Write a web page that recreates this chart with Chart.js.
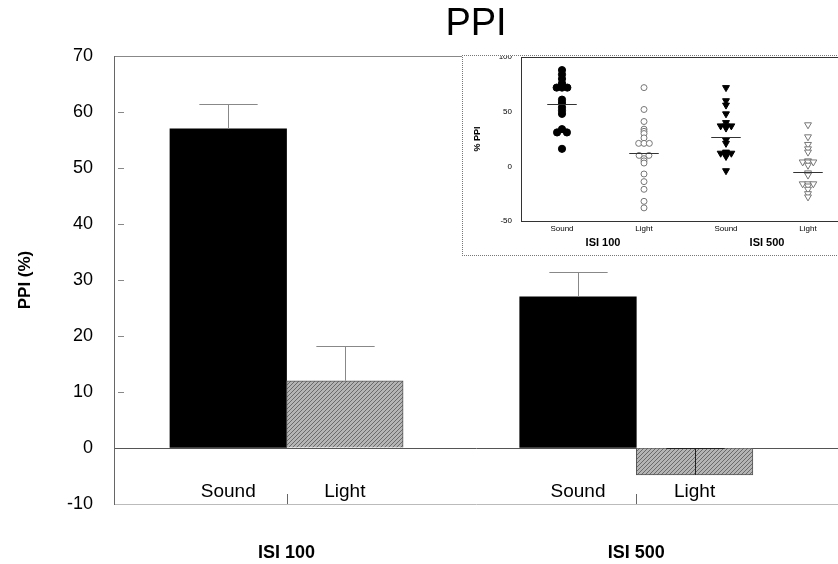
<!DOCTYPE html>
<html>
<head>
<meta charset="utf-8">
<script src="https://cdn.jsdelivr.net/npm/chart.js@4"></script>
<style>
  html, body { margin: 0; padding: 0; background: #fff; overflow: hidden; }
  #wrap { position: relative; width: 838px; height: 564px; overflow: hidden; }
  #inset {
    position: absolute; left: 462px; top: 55px; width: 400px; height: 199px;
    background: #fff; overflow: hidden;
    border-left: 1px dotted #777; border-top: 1px dotted #777; border-bottom: 1px dotted #777;
  }
  #scatter { display: block; margin-top: -4px; }
</style>
</head>
<body>
<div id="wrap">
  <canvas id="main" width="838" height="564"></canvas>
  <div id="inset"><canvas id="scatter" width="400" height="203"></canvas></div>
</div>
<script>
// main bar chart
const conditions = ['Sound', 'Light', 'Sound', 'Light'];
const groups = ['ISI 100', 'ISI 500'];
const ppiMean = [57, 12, 27, -4.8];
const ppiErr = [4.5, 6.2, 4.5, 4.8];
const mainYMin = -10, mainYMax = 70, mainYStep = 10;

// inset: individual animals, % PPI
const soundIsi100 = [88, 84, 80, 76, 74, 72, 72, 72, 61, 58, 54, 51, 48, 34, 31, 31, 16];
const lightIsi100 = [72, 52, 41, 34, 32, 30, 26, 21, 21, 21, 10, 10, 7, 5, 3, -7, -14, -21, -32, -38];
const soundIsi500 = [72, 60, 56, 48, 40, 37, 37, 37, 35, 24, 21, 13, 12, 12, 12, 10, 9, -4];
const lightIsi500 = [38, 27, 20, 16, 13, 5, 4, 4, 4, 1, -6, -8, -16, -16, -16, -18, -21, -25, -28];
const insetYMin = -50, insetYMax = 100, insetYStep = 50;

const FONT = '"Liberation Sans", Arial, sans-serif';

// bars sit in slots 0,1 and 3,4 (one empty slot between the groups)
const barX = i => i + Math.floor(i / 2);
const groupX = k => k * 3 + 0.5;

function hatch() {
    const c = document.createElement('canvas');
    c.width = 4; c.height = 4;
    const g = c.getContext('2d');
    g.fillStyle = '#b4b4b4';
    g.fillRect(0, 0, 4, 4);
    g.fillStyle = '#6a6a6a';
    for (let i = 0; i < 4; i++) g.fillRect(i, 3 - i, 1, 1);
    return g.createPattern(c, 'repeat');
}
const hatchFill = hatch();

const mainMarks = {
    id: 'mainMarks',
    afterDatasetsDraw(chart) {
        const { ctx, chartArea, scales: { x, y } } = chart;
        ctx.save();
        ctx.lineWidth = 1;
        // error bars (drawn upward)
        ppiMean.forEach((v, i) => {
            const xv = barX(i);
            const px = Math.round(x.getPixelForValue(xv)) + 0.5;
            const y0 = y.getPixelForValue(v);
            const y1 = Math.round(y.getPixelForValue(v + ppiErr[i])) + 0.5;
            const half = x.getPixelForValue(xv + 0.25) - x.getPixelForValue(xv);
            ctx.strokeStyle = v < 0 ? '#222' : '#888';
            ctx.beginPath();
            ctx.moveTo(px, y0); ctx.lineTo(px, y1);
            ctx.moveTo(px - half, y1); ctx.lineTo(px + half, y1);
            ctx.stroke();
        });
        // small inner tick marks on the y axis
        ctx.strokeStyle = '#888';
        y.ticks.forEach(t => {
            if (t.value <= mainYMin || t.value >= mainYMax || t.value === 0) return;
            const py = Math.round(y.getPixelForValue(t.value)) + 0.5;
            ctx.beginPath();
            ctx.moveTo(chartArea.left + 4, py); ctx.lineTo(chartArea.left + 10, py);
            ctx.stroke();
        });
        // condition labels inside the plot, above the bottom line
        ctx.fillStyle = '#000';
        ctx.font = '19px ' + FONT;
        ctx.textAlign = 'center';
        ctx.textBaseline = 'middle';
        conditions.forEach((c, i) => ctx.fillText(c, x.getPixelForValue(barX(i)), chartArea.bottom - 12));
        // separators between Sound and Light
        ctx.strokeStyle = '#666';
        groups.forEach((g, k) => {
            const px = Math.round(x.getPixelForValue(groupX(k))) + 0.5;
            ctx.beginPath();
            ctx.moveTo(px, chartArea.bottom); ctx.lineTo(px, chartArea.bottom - 10);
            ctx.stroke();
        });
        ctx.restore();
    }
};

new Chart(document.getElementById('main').getContext('2d'), {
    type: 'bar',
    data: {
        datasets: [{
            data: conditions.map((c, i) => ({ x: barX(i), y: ppiMean[i] })),
            backgroundColor: conditions.map(c => c === 'Sound' ? '#000' : hatchFill),
            borderColor: conditions.map(c => c === 'Sound' ? '#000' : '#555'),
            borderWidth: conditions.map(c => c === 'Sound' ? 0 : 1),
            barPercentage: 1,
            categoryPercentage: 1
        }]
    },
    options: {
        responsive: false,
        animation: false,
        layout: { padding: 0 },
        plugins: {
            legend: { display: false },
            tooltip: { enabled: false },
            title: {
                display: true, text: 'PPI', fullSize: false, color: '#000',
                font: { family: FONT, size: 38, weight: 'normal' },
                padding: { top: 2, bottom: 8.4 }
            }
        },
        scales: {
            x: {
                type: 'linear', min: -0.98, max: 5.23, offset: false,
                grid: { display: false, drawTicks: false, offset: false },
                border: { display: false },
                afterBuildTicks: s => { s.ticks = groups.map((g, k) => ({ value: groupX(k) })); },
                afterFit: s => { s.height = 60; },
                ticks: {
                    color: '#000', padding: 38, maxRotation: 0,
                    font: { family: FONT, size: 18, weight: 'bold' },
                    callback: (v, i) => groups[i]
                }
            },
            y: {
                min: mainYMin, max: mainYMax,
                afterFit: s => { s.width = 114; },
                border: { display: true, color: '#666', width: 1 },
                grid: {
                    drawTicks: false,
                    color: c => c.tick.value === 0 ? '#555' : c.tick.value === mainYMax ? '#888' : c.tick.value === mainYMin ? '#bbb' : 'rgba(0,0,0,0)'
                },
                ticks: {
                    stepSize: mainYStep, color: '#000', padding: 21,
                    font: { family: FONT, size: 18 }
                },
                title: {
                    display: true, text: 'PPI (%)', color: '#000',
                    font: { family: FONT, size: 17, weight: 'bold' },
                    padding: { top: 15, bottom: 0 }
                }
            }
        }
    },
    plugins: [mainMarks]
});

// inset scatter
function spread(values, gi) {
    const counts = {}, seen = {};
    values.forEach(v => { counts[v] = (counts[v] || 0) + 1; });
    return values.map(v => {
        const k = seen[v] = (seen[v] === undefined ? 0 : seen[v] + 1);
        const n = counts[v];
        const step = n === 2 ? 0.12 : 0.065;
        return { x: gi + (k - (n - 1) / 2) * step, y: v };
    });
}

const insetSeries = [soundIsi100, lightIsi100, soundIsi500, lightIsi500];
const insetStyle = [
    { pointStyle: 'circle', rotation: 0, bg: '#000', bd: '#000', r: 3.6 },
    { pointStyle: 'circle', rotation: 0, bg: '#fff', bd: '#777', r: 3 },
    { pointStyle: 'triangle', rotation: 180, bg: '#000', bd: '#000', r: 4 },
    { pointStyle: 'triangle', rotation: 180, bg: '#fff', bd: '#777', r: 4 }
];

const insetMarks = {
    id: 'insetMarks',
    afterDatasetsDraw(chart) {
        const { ctx, chartArea, scales: { x, y } } = chart;
        ctx.save();
        ctx.strokeStyle = '#333';
        ctx.lineWidth = 1;
        ppiMean.forEach((m, i) => {
            const py = Math.round(y.getPixelForValue(m)) + 0.5;
            ctx.beginPath();
            ctx.moveTo(x.getPixelForValue(i - 0.18), py);
            ctx.lineTo(x.getPixelForValue(i + 0.18), py);
            ctx.stroke();
        });
        ctx.fillStyle = '#000';
        ctx.font = 'bold 11px ' + FONT;
        ctx.textAlign = 'center';
        ctx.textBaseline = 'middle';
        groups.forEach((g, k) => ctx.fillText(g, x.getPixelForValue(k * 2 + 0.5), chartArea.bottom + 22));
        ctx.restore();
    }
};

new Chart(document.getElementById('scatter').getContext('2d'), {
    type: 'scatter',
    data: {
        datasets: insetSeries.map((vals, gi) => ({
            data: spread(vals, gi),
            pointStyle: insetStyle[gi].pointStyle,
            rotation: insetStyle[gi].rotation,
            pointBackgroundColor: insetStyle[gi].bg,
            pointBorderColor: insetStyle[gi].bd,
            pointBorderWidth: 1,
            pointRadius: insetStyle[gi].r
        }))
    },
    options: {
        responsive: false,
        animation: false,
        layout: { padding: { top: 1, right: 14 } },
        plugins: { legend: { display: false }, tooltip: { enabled: false } },
        scales: {
            x: {
                type: 'linear', min: -0.5, max: 3.5,
                grid: { display: false, drawTicks: false },
                border: { display: true, color: '#333' },
                afterBuildTicks: s => { s.ticks = conditions.map((c, i) => ({ value: i })); },
                afterFit: s => { s.height = 34; s.paddingLeft = 0; s.paddingRight = 0; },
                ticks: {
                    color: '#000', padding: 3, maxRotation: 0,
                    font: { family: FONT, size: 8 },
                    callback: (v, i) => conditions[i]
                }
            },
            y: {
                min: insetYMin, max: insetYMax,
                afterFit: s => { s.width = 58; s.paddingTop = 0; s.paddingBottom = 0; },
                border: { display: true, color: '#333' },
                grid: {
                    drawTicks: false,
                    color: c => c.tick.value === insetYMax ? '#333' : 'rgba(0,0,0,0)'
                },
                ticks: {
                    stepSize: insetYStep, color: '#000', padding: 9,
                    font: { family: FONT, size: 8 }
                },
                title: {
                    display: true, text: '% PPI', color: '#000',
                    font: { family: FONT, size: 9, weight: 'bold' },
                    padding: { top: 9, bottom: 0 }
                }
            }
        }
    },
    plugins: [insetMarks]
});
</script>
</body>
</html>
